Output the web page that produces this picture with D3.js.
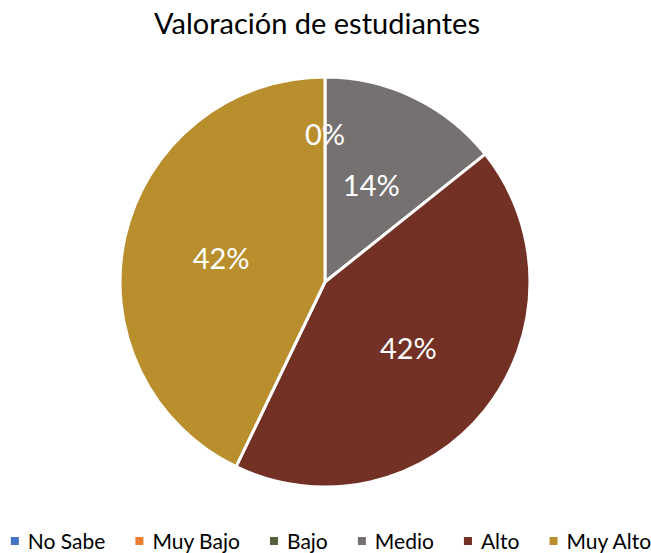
<!doctype html>
<html lang="es">
<head>
  <meta charset="utf-8">
  <title>Valoración de estudiantes</title>
  <style>
  body { margin: 0; background: #fff; }
  svg { display: block; font-family: Lato, "Open Sans", sans-serif; }
  .slice { stroke: #fff; stroke-width: 3; stroke-linejoin: round; }
  </style>
</head>
<body>
  <div id="chart"></div>
  <script src="https://d3js.org/d3.v7.min.js"></script>
  <script>
var categories = ["No Sabe", "Muy Bajo", "Bajo", "Medio", "Alto", "Muy Alto"];
var values = [0, 0, 0, 14, 42, 42];
var colors = ["#4472C4", "#ED7D31", "#56603A", "#767171", "#733125", "#B98F2E"];
var title = "Valoración de estudiantes";

(function() {
  var width = 651, height = 553;
  var cx = 325, cy = 282, radius = 205;

  var svg = d3.select("#chart").append("svg")
      .attr("width", width)
      .attr("height", height);

  svg.append("text")
      .attr("x", 317)
      .attr("y", 34)
      .attr("text-anchor", "middle")
      .attr("font-size", 29)
      .attr("fill", "#000")
      .text(title);

  var data = categories.map(function(c, i) { return { name: c, value: values[i], color: colors[i] }; });

  var pie = d3.pie().sort(null).value(function(d) { return d.value; });
  var arc = d3.arc().innerRadius(0).outerRadius(radius);
  var arcs = pie(data);

  var g = svg.append("g").attr("transform", "translate(" + cx + "," + cy + ")");

  g.selectAll("path")
    .data(arcs.filter(function(d) { return d.data.value > 0; }))
    .enter().append("path")
      .attr("class", "slice")
      .attr("fill", function(d) { return d.data.color; })
      .attr("d", arc);

  // zero slices all sit on the same spot, so only one label is drawn for them
  var labelArcs = arcs.filter(function(d) { return d.data.value > 0; });
  var zeros = arcs.filter(function(d) { return d.data.value === 0; });
  if (zeros.length) labelArcs.unshift(zeros[zeros.length - 1]);

  g.selectAll("text.lbl")
    .data(labelArcs)
    .enter().append("text")
      .attr("class", "lbl")
      .attr("transform", function(d) {
        var r = d.data.value === 0 ? radius * 0.72 : radius * 0.52;
        var a = (d.startAngle + d.endAngle) / 2;
        return "translate(" + (Math.sin(a) * r) + "," + (-Math.cos(a) * r) + ")";
      })
      .attr("text-anchor", "middle")
      .attr("dy", "0.36em")
      .attr("font-size", 29)
      .attr("fill", "#fff")
      .text(function(d) { return d.data.value + "%"; });

  // legend
  var legend = svg.append("g");
  var items = legend.selectAll("g").data(data).enter().append("g");
  items.append("rect")
      .attr("width", 8).attr("height", 8)
      .attr("y", -12)
      .attr("fill", function(d) { return d.color; });
  items.append("text")
      .attr("x", 17)
      .attr("font-size", 21)
      .attr("fill", "#000")
      .text(function(d) { return d.name; });

  var gap = 30, x = 0;
  items.each(function() {
    var w = this.getBBox().width;
    d3.select(this).attr("transform", "translate(" + x + ",0)");
    x += w + gap;
  });
  x -= gap;
  legend.attr("transform", "translate(" + (331 - x / 2) + ",549)");
})();
  </script>
</body>
</html>
